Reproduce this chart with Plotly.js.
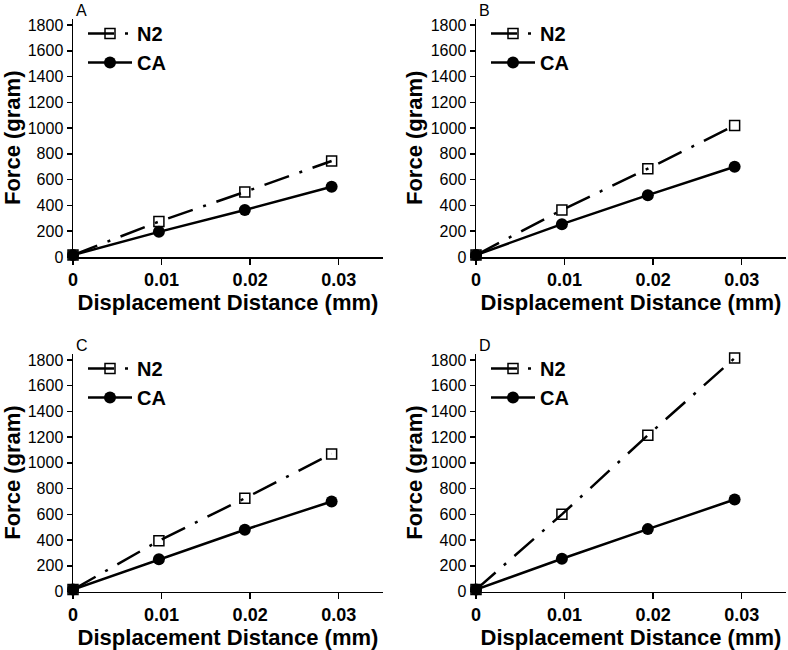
<!DOCTYPE html>
<html>
<head>
<meta charset="utf-8">
<script src="https://cdn.plot.ly/plotly-3.0.1.min.js"></script>
<style>html,body{margin:0;padding:0;background:#fff;}#chart{width:788px;height:650px;}</style>
</head>
<body>
<div id="chart"></div>
<script>
// ---- data ----
const displacement = [0, 0.0097, 0.0194, 0.0292];
const panelLabels = ["A", "B", "C", "D"];
const seriesNames = ["N2", "CA"];
const n2A = [15, 275, 505, 745];
const caA = [15, 195, 365, 545];
const n2B = [15, 365, 685, 1020];
const caB = [15, 255, 480, 700];
const n2C = [15, 395, 725, 1070];
const caC = [15, 250, 480, 700];
const n2D = [15, 600, 1215, 1815];
const caD = [15, 255, 485, 715];
const xTickVals = [0, 0.01, 0.02, 0.03];
const xTickText = ["0", "0.01", "0.02", "0.03"];
const yTickVals = [0, 200, 400, 600, 800, 1000, 1200, 1400, 1600, 1800];
const xTitle = "Displacement Distance (mm)";
const yTitle = "Force (gram)";

const n2Data = [n2A, n2B, n2C, n2D];
const caData = [caA, caB, caC, caD];

const FONT = "Arial, 'Liberation Sans', Helvetica, sans-serif";
const W = 788, H = 650;
const YMAX = 1850;
// panel pixel boxes [left, right, top(of 1800), bottom]
const boxes = [
  [73, 383, 25, 257],
  [476, 786, 25, 257],
  [73, 383, 360, 591.5],
  [476, 786, 360, 591.5]
];

const traces = [];
const layout = {
  width: W, height: H,
  margin: {l: 0, r: 0, t: 0, b: 0},
  paper_bgcolor: "#fff", plot_bgcolor: "#fff",
  font: {family: FONT, color: "#000"},
  annotations: [],
  showlegend: true
};

boxes.forEach((b, i) => {
  const k = i === 0 ? "" : String(i + 1);
  const xa = "x" + k, ya = "y" + k;
  const lg = "legend" + k;
  const pxPerUnit = (b[3] - b[2]) / 1800;
  const topPx = b[3] - YMAX * pxPerUnit;
  traces.push({
    x: displacement, y: n2Data[i], xaxis: xa, yaxis: ya, legend: lg,
    name: seriesNames[0], type: "scatter", mode: "lines+markers", cliponaxis: false,
    line: {color: "#000", width: 2.5, dash: "26px,11px,3px,11px"},
    marker: {symbol: "square-open", size: 10, color: "#000", line: {width: 1.5, color: "#000"}}
  });
  traces.push({
    x: displacement, y: caData[i], xaxis: xa, yaxis: ya, legend: lg,
    name: seriesNames[1], type: "scatter", mode: "lines+markers", cliponaxis: false,
    line: {color: "#000", width: 2.5},
    marker: {symbol: "circle", size: 12, color: "#000"}
  });
  layout["xaxis" + k] = {
    domain: [b[0] / W, b[1] / W], anchor: ya, range: [0, 0.035],
    showgrid: false, zeroline: false, showline: true, linecolor: "#000", linewidth: 1.5,
    ticks: "outside", ticklen: 6, tickwidth: 1.5, tickcolor: "#000",
    tickvals: xTickVals, ticktext: xTickText,
    tickfont: {family: FONT, size: 18, color: "#000", weight: "bold"},
    title: {text: "<b>" + xTitle + "</b>", font: {family: FONT, size: 22, color: "#000"}, standoff: 4}
  };
  layout["yaxis" + k] = {
    domain: [1 - b[3] / H, 1 - topPx / H], anchor: xa, range: [0, YMAX],
    showgrid: false, zeroline: false, showline: true, linecolor: "#000", linewidth: 1.5,
    ticks: "outside", ticklen: 5, tickwidth: 1.5, tickcolor: "#000",
    tickvals: yTickVals,
    tickfont: {family: FONT, size: 16, color: "#000"},
    title: {text: "<b>" + yTitle + "</b>", font: {family: FONT, size: 22, color: "#000"}, standoff: 2}
  };
  layout[lg] = {
    x: (b[0] + 10) / W, xanchor: "left",
    y: 1 - (b[2] - 11) / H, yanchor: "top",
    bgcolor: "rgba(0,0,0,0)", borderwidth: 0,
    itemwidth: 44,
    font: {family: FONT, size: 20, color: "#000", weight: "bold"},
    tracegroupgap: 0
  };
  layout.annotations.push({
    text: panelLabels[i], xref: xa + " domain", yref: "paper",
    x: 0, y: 1 - (b[2] - 4) / H, xanchor: "left", yanchor: "bottom", xshift: 1,
    showarrow: false, font: {family: FONT, size: 16, color: "#000"}
  });
});

Plotly.newPlot("chart", traces, layout, {displayModeBar: false, staticPlot: true});
</script>
</body>
</html>
